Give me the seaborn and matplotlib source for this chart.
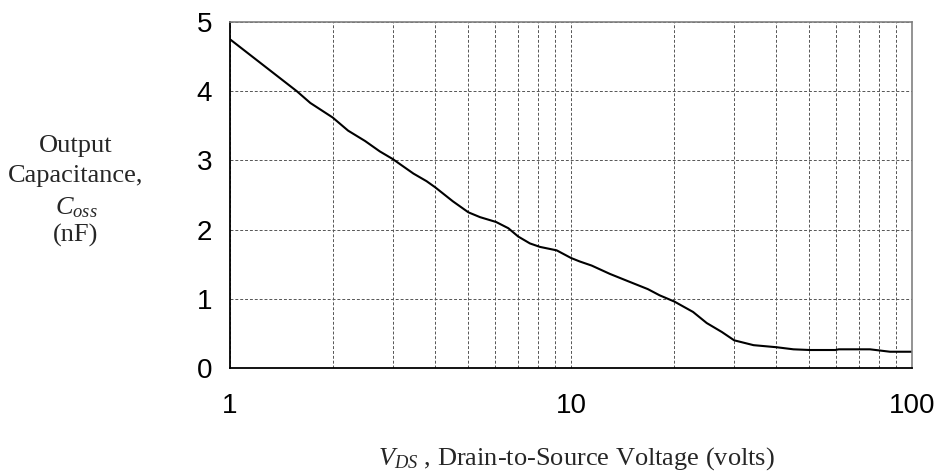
import matplotlib
matplotlib.use("Agg")
import matplotlib.pyplot as plt
import seaborn as sns
import pandas as pd
import numpy as np
from matplotlib.ticker import LogLocator, FixedLocator, NullFormatter

vds = [1.0, 1.57, 1.72, 2.0, 2.22, 2.49, 2.75, 3.0, 3.45, 3.77, 4.0, 4.5, 5.0, 5.41,
       6.03, 6.55, 7.0, 7.58, 8.11, 9.08, 10.0, 10.6, 11.5, 13.0, 14.6, 16.8, 18.2,
       20.1, 22.8, 25.0, 27.7, 30.1, 34.3, 40.1, 44.9, 50.2, 59.6, 61.0, 75.3, 86.2, 100.0]
coss = [4.75, 4.00, 3.83, 3.62, 3.43, 3.28, 3.13, 3.02, 2.81, 2.70, 2.61, 2.41, 2.25, 2.18,
        2.11, 2.02, 1.90, 1.80, 1.75, 1.70, 1.59, 1.54, 1.48, 1.36, 1.26, 1.14, 1.05,
        0.96, 0.81, 0.65, 0.52, 0.40, 0.33, 0.30, 0.27, 0.26, 0.26, 0.27, 0.27, 0.235, 0.235]
y_ticks = [0, 1, 2, 3, 4, 5]
x_ticks = [1, 10, 100]
x_tick_labels = ["1", "10", "100"]

df = pd.DataFrame({"vds": vds, "coss": coss})

sns.set_style("white")
plt.rcParams["font.family"] = ["Liberation Sans", "DejaVu Sans"]
plt.rcParams["mathtext.fontset"] = "custom"
plt.rcParams["mathtext.rm"] = "Liberation Serif"
plt.rcParams["mathtext.it"] = "Liberation Serif:italic"

fig = plt.figure(figsize=(9.39, 4.75), dpi=100)
ax = fig.add_axes([230 / 939, 1 - 368 / 475, (912 - 230) / 939, (368 - 22) / 475])

sns.lineplot(data=df, x="vds", y="coss", ax=ax, color="black", linewidth=1.5)
ax.set_xscale("log")
ax.set_xlim(1, 100)
ax.set_ylim(0, 5)

ax.xaxis.set_major_locator(FixedLocator(x_ticks))
ax.set_xticklabels(x_tick_labels)
ax.xaxis.set_minor_locator(LogLocator(base=10, subs=np.arange(2, 10)))
ax.xaxis.set_minor_formatter(NullFormatter())
ax.set_yticks(y_ticks)

grid_kw = dict(color="#555555", linestyle=(0, (3, 2)), linewidth=0.7)
ax.grid(True, which="major", axis="both", **grid_kw)
ax.grid(True, which="minor", axis="x", **grid_kw)

ax.tick_params(axis="both", which="major", direction="out", length=5, width=1.2,
               color="black", labelsize=20, labelcolor="black")
ax.tick_params(axis="x", which="major", pad=13)
ax.tick_params(axis="y", which="major", pad=8)
ax.tick_params(axis="x", which="minor", length=0)

for s in ["left", "bottom"]:
    ax.spines[s].set_color("black")
    ax.spines[s].set_linewidth(1.3)
for s in ["top", "right"]:
    ax.spines[s].set_color("#808080")
    ax.spines[s].set_linewidth(1.2)

ax.set_xlabel("")
ax.set_ylabel("")

serif = dict(family=["Liberation Serif", "DejaVu Serif"], fontsize=19, ha="center", va="baseline")
cx = 76 / 939
fig.text(cx, 1 - 152 / 475, "Output", **serif)
fig.text(cx, 1 - 182 / 475, "Capacitance,", **serif)
fig.text(cx, 1 - 214 / 475, r"$\mathit{C}_{\mathit{oss}}$", **serif)
fig.text(cx, 1 - 242 / 475, "(nF)", **serif)

fig.text(576 / 939, 1 - 465 / 475, r"$\mathit{V}_{\mathit{DS}}$ , Drain-to-Source Voltage (volts)", **serif)

fig.savefig("out.png", dpi=100)
